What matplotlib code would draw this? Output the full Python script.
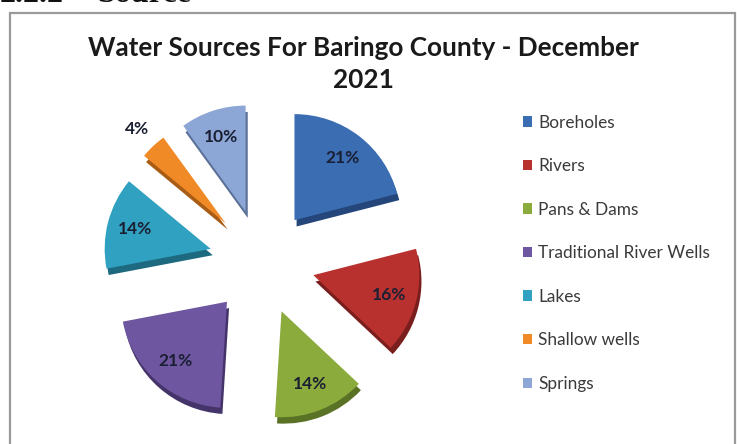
import matplotlib
matplotlib.use("Agg")
import matplotlib.pyplot as plt
from matplotlib.patches import Rectangle, Patch
import numpy as np

# Water source shares (%) for Baringo County, December 2021
sources = ["Boreholes", "Rivers", "Pans & Dams", "Traditional River Wells",
           "Lakes", "Shallow wells", "Springs"]
shares = [21, 16, 14, 21, 14, 4, 10]
colors = ["#3b6db3", "#b9312f", "#8bab3c", "#6e56a1", "#30a1c0", "#f08a26", "#8ca6d6"]
shadow_colors = ["#24467a", "#7a1e1d", "#5a7226", "#45346a", "#1d6a80", "#a85c14", "#5b7096"]

W, H, DPI = 737, 444, 100
fig = plt.figure(figsize=(W / DPI, H / DPI), dpi=DPI)
fig.patch.set_facecolor("white")

# section heading (runs off the top edge of the page)
fig.text(0 / W, 1 - 2 / H, "2.2.2", fontsize=23, fontweight="bold",
         family="Liberation Serif", va="baseline", ha="left", color="#111111")
fig.text(97 / W, 1 - 2 / H, "Source", fontsize=23, fontweight="bold",
         family="Liberation Serif", va="baseline", ha="left", color="#111111")

# chart frame
frame = Rectangle((10 / W, -0.05), 725 / W, 1 - 13 / H + 0.05, transform=fig.transFigure,
                  fill=False, edgecolor="#9a9a9a", linewidth=1.6)
fig.add_artist(frame)

# pie axes: 1 data unit ~ 106 px, centre at (262, 262) px from top-left
px_per_unit = 106
L = 1.75
S = 2 * L * px_per_unit
cx, cy = 262, H - 262
ax = fig.add_axes([(cx - S / 2) / W, (cy - S / 2) / H, S / W, S / H])

explode = [0.5] * len(shares)

# extruded side of each slice
ax.pie(shares, colors=shadow_colors, startangle=90, counterclock=False,
       explode=explode, radius=1.0, center=(0.02, -0.06),
       wedgeprops=dict(linewidth=0))

wedges, texts, autotexts = ax.pie(
    shares, colors=colors, startangle=90, counterclock=False,
    explode=explode, radius=1.0, autopct="%.0f%%", pctdistance=0.74,
    wedgeprops=dict(linewidth=0),
    textprops=dict(fontsize=12.5, fontweight="bold", color="#1b1f33", family="Lato"))

ax.set_xlim(-L, L)
ax.set_ylim(-L, L)
ax.set_aspect("equal")
ax.axis("off")

# the thin slice carries its label outside
i_small = sources.index("Shallow wells")
w = wedges[i_small]
mid = np.deg2rad((w.theta1 + w.theta2) / 2)
x0, y0 = w.center
autotexts[i_small].set_position((x0 + 1.22 * np.cos(mid), y0 + 1.22 * np.sin(mid)))

fig.text(363 / W, 1 - 48 / H, "Water Sources For Baringo County - December",
         fontsize=18.8, fontweight="bold", family="Lato", ha="center", va="center",
         color="#1a1a1a")
fig.text(363 / W, 1 - 80 / H, "2021",
         fontsize=18.8, fontweight="bold", family="Lato", ha="center", va="center",
         color="#1a1a1a")

handles = [Patch(facecolor=c, edgecolor="none") for c in colors]
leg = fig.legend(handles, sources, loc="upper left",
                 bbox_to_anchor=(507 / W, 1 - 99 / H), frameon=False,
                 handlelength=0.55, handleheight=0.55, handletextpad=0.35,
                 labelspacing=1.6, prop=dict(family="Lato", size=12.4))
for t in leg.get_texts():
    t.set_color("#3a3a3a")

fig.savefig("out.png", dpi=DPI)
